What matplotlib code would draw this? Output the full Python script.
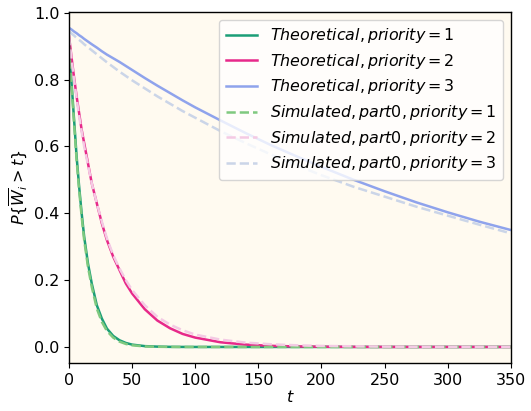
import matplotlib
matplotlib.use("Agg")
import matplotlib.pyplot as plt

# time grid
t = [0, 2, 4, 6, 8, 10, 12, 15, 18, 22, 26, 30, 35, 40, 45, 50, 60, 70, 80,
     90, 100, 120, 140, 160, 180, 200, 225, 250, 275, 300, 325, 350]

theo_p1 = [0.90, 0.79, 0.68, 0.57, 0.48, 0.40, 0.33, 0.25, 0.19, 0.125, 0.085,
           0.055, 0.033, 0.020, 0.012, 0.007, 0.0025, 0.001, 0.0003, 0.0001,
           0, 0, 0, 0, 0, 0, 0, 0, 0, 0, 0, 0]
theo_p2 = [0.93, 0.866, 0.806, 0.75, 0.70, 0.65, 0.61, 0.55, 0.49, 0.43, 0.37,
           0.32, 0.27, 0.23, 0.19, 0.16, 0.113, 0.079, 0.056, 0.039, 0.028,
           0.014, 0.007, 0.0033, 0.0016, 0.0008, 0.0003, 0.0001, 0, 0, 0, 0]
theo_p3 = [0.955, 0.95, 0.944, 0.939, 0.933, 0.928, 0.922, 0.914, 0.906, 0.896,
           0.885, 0.875, 0.864, 0.853, 0.841, 0.829, 0.805, 0.782, 0.760,
           0.738, 0.717, 0.678, 0.640, 0.604, 0.571, 0.539, 0.501, 0.466,
           0.433, 0.403, 0.375, 0.350]

sim_p1 = [0.90, 0.78, 0.67, 0.56, 0.47, 0.39, 0.32, 0.24, 0.18, 0.115, 0.075,
          0.048, 0.028, 0.016, 0.009, 0.005, 0.0015, 0.0005, 0.0002, 0,
          0, 0, 0, 0, 0, 0, 0, 0, 0, 0, 0, 0]
sim_p2 = [0.93, 0.86, 0.80, 0.745, 0.69, 0.645, 0.60, 0.545, 0.49, 0.43, 0.375,
          0.325, 0.275, 0.235, 0.20, 0.17, 0.125, 0.09, 0.067, 0.05, 0.037,
          0.022, 0.013, 0.008, 0.005, 0.003, 0.002, 0.001, 0.0005, 0.0003,
          0.0002, 0.0001]
sim_p3 = [0.945, 0.938, 0.932, 0.925, 0.919, 0.913, 0.906, 0.897, 0.888, 0.876,
          0.864, 0.852, 0.838, 0.824, 0.811, 0.798, 0.774, 0.750, 0.728,
          0.706, 0.686, 0.646, 0.610, 0.576, 0.544, 0.514, 0.480, 0.450,
          0.420, 0.393, 0.366, 0.340]

theo_colors = ["#1b9e77", "#e7298a", "#8fa3ec"]
sim_colors = ["#7fc97f", "#f4cae4", "#cbd5e8"]

plt.rcParams["font.size"] = 11.5
plt.rcParams["axes.linewidth"] = 1.0

fig = plt.figure(figsize=(5.31, 4.11), dpi=100)
ax = fig.add_axes([0.13, 0.117, 0.832, 0.854])
ax.set_facecolor("#fffaf0")

for i, ys in enumerate([theo_p1, theo_p2, theo_p3]):
    ax.plot(t, ys, color=theo_colors[i], lw=1.8,
            label=r"$Theoretical, priority = %d$" % (i + 1))
for i, ys in enumerate([sim_p1, sim_p2, sim_p3]):
    ax.plot(t, ys, color=sim_colors[i], lw=1.8, ls="--",
            label=r"$Simulated, part0, priority = %d$" % (i + 1))

ax.set_xlim(0, 350)
ax.set_xlabel(r"$t$", labelpad=1)
ax.set_ylabel(r"$P\{\overline{W}_i > t\}$", labelpad=3)
ax.legend(loc="upper right", fontsize=11.4, labelspacing=0.42,
          borderaxespad=0.5)

fig.savefig("out.png", dpi=100)
